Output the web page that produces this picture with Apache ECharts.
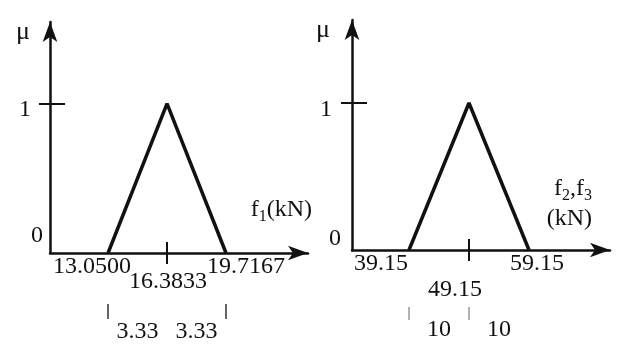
<!DOCTYPE html>
<html>
<head>
<meta charset="utf-8">
<script src="https://cdn.jsdelivr.net/npm/echarts@6/dist/echarts.min.js"></script>
<style>
html, body { margin: 0; padding: 0; background: #fff; }
#chart { width: 622px; height: 344px; }
</style>
</head>
<body>
<div id="chart"></div>
<script>
// triangle membership functions: base-left, peak, base-right
var f1Points = [13.05, 16.3833, 19.7167];
var f23Points = [39.15, 49.15, 59.15];
var muValues = [0, 1, 0];
var f1Labels = ['13.0500', '16.3833', '19.7167'];
var f23Labels = ['39.15', '49.15', '59.15'];
var f1Spread = ['3.33', '3.33'];
var f23Spread = ['10', '10'];
var muTicks = [0, 1];
var muLabels = ['0', '1'];

var FONT = "'Liberation Serif', 'Times New Roman', serif";
var INK = '#111';

function nearest(arr, v) {
    var best = 0;
    for (var i = 1; i < arr.length; i++) {
        if (Math.abs(arr[i] - v) < Math.abs(arr[best] - v)) best = i;
    }
    return best;
}

function txt(extra) {
    var s = { fontFamily: FONT, fontSize: 24, color: INK };
    for (var k in extra) s[k] = extra[k];
    return s;
}

// one panel = 3 x axes (main, inner tick + middle label, spread row) + 2 y axes
function panel(g, cfg) {
    var pts = cfg.points;
    var mids = [(pts[0] + pts[1]) / 2, (pts[1] + pts[2]) / 2];
    var arrow = {
        show: true, onZero: false,
        symbol: ['none', 'arrow'], symbolSize: [11, 20],
        lineStyle: { color: INK, width: 2.5 }
    };
    var fmt = function (v) { var i = nearest(pts, v); return '{p' + i + '|' + cfg.labels[i] + '}'; };
    var rich = {
        p0: txt({ padding: cfg.xPad[0] }),
        p1: txt({ padding: cfg.xPad[1] }),
        p2: txt({ padding: cfg.xPad[2] })
    };
    var xs = [{
        gridIndex: g, type: 'value', position: 'bottom', min: cfg.xMin, max: cfg.xMax,
        axisLine: arrow,
        axisTick: { show: true, customValues: [pts[1]], length: 11, lineStyle: { color: INK, width: 2 } },
        axisLabel: {
            show: true, customValues: [pts[0], pts[2]], margin: 2,
            showMinLabel: true, showMaxLabel: true,
            formatter: fmt, rich: rich
        },
        splitLine: { show: false },
        name: cfg.name, nameLocation: 'end', nameGap: cfg.nameGap,
        nameTextStyle: {
            align: 'right', verticalAlign: 'bottom', padding: cfg.namePad,
            rich: {
                a: txt({ lineHeight: 30 }),
                s: txt({ fontSize: 16, verticalAlign: 'bottom', lineHeight: 30 })
            }
        }
    }, {
        gridIndex: g, type: 'value', position: 'bottom', min: cfg.xMin, max: cfg.xMax,
        axisLine: { show: false, onZero: false },
        axisTick: { show: true, inside: true, customValues: [pts[1]], length: 11, lineStyle: { color: INK, width: 2 } },
        axisLabel: {
            show: true, customValues: [pts[1]], margin: cfg.midMargin,
            showMinLabel: true, showMaxLabel: true,
            formatter: fmt, rich: rich
        },
        splitLine: { show: false }
    }, {
        gridIndex: g, type: 'value', min: cfg.xMin, max: cfg.xMax,
        position: 'bottom', offset: cfg.spreadOffset,
        axisLine: { show: false, onZero: false },
        axisTick: { show: true, customValues: cfg.spreadTicks, length: cfg.spreadTickLen, lineStyle: { color: cfg.spreadTickColor, width: 1.5 } },
        axisLabel: {
            show: true, customValues: mids, margin: cfg.spreadMargin,
            showMinLabel: true, showMaxLabel: true,
            formatter: function (v) { return cfg.spread[nearest(mids, v)]; },
            fontFamily: FONT, fontSize: 24, color: INK
        },
        splitLine: { show: false }
    }];
    var ys = [{
        gridIndex: g, type: 'value', position: 'left', min: 0, max: cfg.yMax,
        axisLine: arrow,
        axisTick: { show: true, customValues: [1], length: 11, lineStyle: { color: INK, width: 2 } },
        axisLabel: {
            show: true, customValues: muTicks, margin: 7,
            showMinLabel: true, showMaxLabel: true,
            formatter: function (v) { var i = nearest(muTicks, v); return '{q' + i + '|' + muLabels[i] + '}'; },
            rich: {
                q0: txt({ padding: cfg.yPad[0] }),
                q1: txt({ padding: cfg.yPad[1] })
            }
        },
        splitLine: { show: false },
        name: 'μ', nameLocation: 'end', nameGap: -10,
        nameTextStyle: txt({ fontSize: 26, align: 'right', verticalAlign: 'middle', padding: [0, cfg.muPad, 0, 0] })
    }, {
        gridIndex: g, type: 'value', position: 'left', min: 0, max: cfg.yMax,
        axisLine: { show: false, onZero: false },
        axisTick: { show: true, inside: true, customValues: [1], length: 15, lineStyle: { color: INK, width: 2 } },
        axisLabel: { show: false },
        splitLine: { show: false }
    }];
    return { x: xs, y: ys };
}

var left = panel(0, {
    points: f1Points, labels: f1Labels, spread: f1Spread,
    xMin: 9.77, xMax: 24.35, yMax: 1.5467,
    xPad: [[0, 32, 0, 0], [0, 0, 0, 2], [0, 0, 0, 40]], midMargin: 17,
    yPad: [[0, 0, 34, 0], [12, 12, 0, 0]],
    name: '{a|f}{s|1}{a|(kN)}', nameGap: 4, namePad: [0, 0, 28, 0],
    spreadOffset: 51, spreadTickLen: 15, spreadMargin: 16,
    spreadTicks: [f1Points[0], f1Points[2]], spreadTickColor: '#333',
    muPad: 20
});
var right = panel(1, {
    points: f23Points, labels: f23Labels, spread: f23Spread,
    xMin: 29.65, xMax: 72.65, yMax: 1.5646,
    xPad: [[0, 56, 0, 0], [0, 28, 0, 0], [0, 0, 0, 16]], midMargin: 28,
    yPad: [[0, 4, 22, 0], [14, 13, 0, 0]],
    name: '{a|f}{s|2}{a|,f}{s|3}\n{a|(kN)}', nameGap: -18, namePad: [0, 0, 16, 0],
    spreadOffset: 57, spreadTickLen: 13, spreadMargin: 11,
    spreadTicks: [f23Points[0], f23Points[1]], spreadTickColor: '#999',
    muPad: 22
});

var chart = echarts.init(document.getElementById('chart'), null, { renderer: 'canvas' });
chart.setOption({
    backgroundColor: '#fff',
    animation: false,
    grid: [
        { left: 50, top: 22, width: 258, height: 232 },
        { left: 352, top: 20, width: 258, height: 230 }
    ],
    xAxis: left.x.concat(right.x),
    yAxis: left.y.concat(right.y),
    series: [{
        type: 'line', xAxisIndex: 0, yAxisIndex: 0,
        data: f1Points.map(function (p, i) { return [p, muValues[i]]; }),
        symbol: 'none', silent: true,
        lineStyle: { color: INK, width: 3.5 }
    }, {
        type: 'line', xAxisIndex: 3, yAxisIndex: 2,
        data: f23Points.map(function (p, i) { return [p, muValues[i]]; }),
        symbol: 'none', silent: true,
        lineStyle: { color: INK, width: 3.5 }
    }]
});
</script>
</body>
</html>
